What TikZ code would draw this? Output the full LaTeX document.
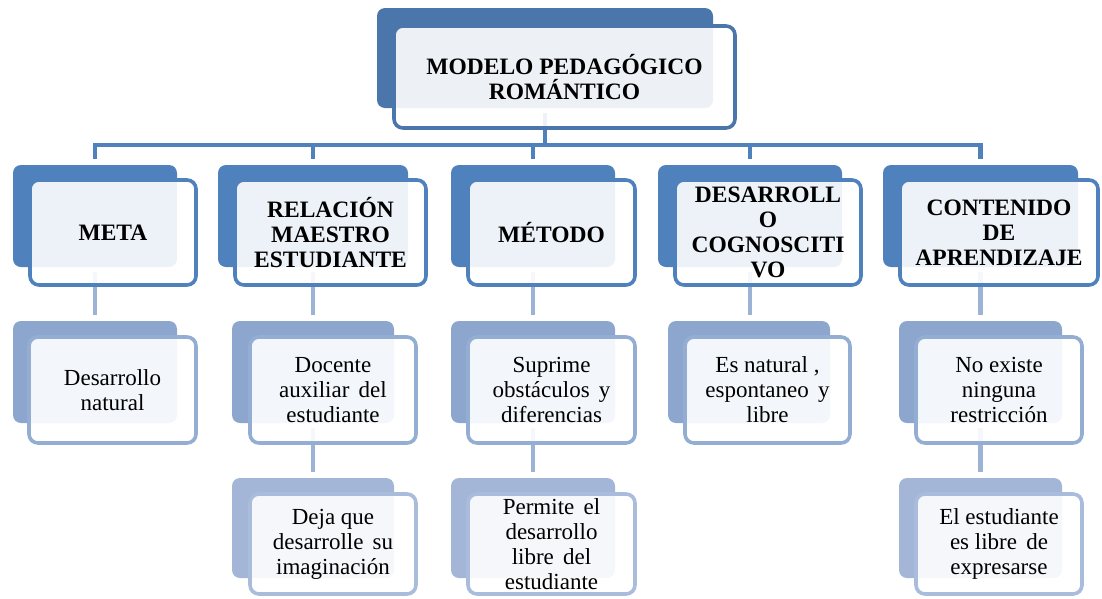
\documentclass[tikz,border=0pt]{standalone}
\usepackage{fontspec}
\setmainfont{Liberation Serif}
\definecolor{cT}{HTML}{4A76AB}
\definecolor{cA}{HTML}{4F81BD}
\definecolor{cB}{HTML}{8DA6CD}
\definecolor{cBb}{HTML}{93ADD3}
\definecolor{cC}{HTML}{A3B6D8}
\definecolor{cCb}{HTML}{A9BCDC}
\definecolor{cL}{HTML}{9CB3D6}
\tikzset{
  backbox/.style={rectangle, rounded corners=8pt, inner sep=0pt, draw=none},
  frontbox/.style={rectangle, rounded corners=9pt, inner sep=0pt, line width=3.6pt,
    fill=white, fill opacity=0.9, text opacity=1, draw opacity=1, align=center, text=black},
  boldtxt/.style={font=\fontsize{23.5}{25}\selectfont\bfseries},
  regtxt/.style={font=\fontsize{23}{25}\selectfont},
  conn/.style={line width=4.2pt, shorten <=5pt, shorten >=6pt},
  lvlone/.style={frontbox, draw=cA, boldtxt, minimum height=105},
  lvltwo/.style={frontbox, draw=cBb, regtxt, minimum height=106},
  lvlthree/.style={frontbox, draw=cCb, regtxt, minimum height=100},
  bone/.style={backbox, fill=cA, minimum height=102},
  btwo/.style={backbox, fill=cB, minimum height=102},
  bthree/.style={backbox, fill=cC, minimum height=100},
}
\begin{document}
\begin{tikzpicture}[x=1pt,y=-1pt]
\useasboundingbox (0,0) rectangle (1102,598);
% back rectangles
\node[backbox, fill=cT, minimum width=336, minimum height=100] (tback) at (545,58) {};
\node[bone, minimum width=164] (mback) at (95,216) {};
\node[bone, minimum width=190] (rback) at (313,216) {};
\node[bone, minimum width=164] (eback) at (533,216) {};
\node[bone, minimum width=184] (dback) at (750,216) {};
\node[bone, minimum width=195] (cback) at (980.5,216) {};
\node[btwo, minimum width=164] (mback2) at (95,372) {};
\node[btwo, minimum width=162] (rback2) at (313,372) {};
\node[btwo, minimum width=164] (eback2) at (533,372) {};
\node[btwo, minimum width=162] (dback2) at (749,372) {};
\node[btwo, minimum width=163] (cback2) at (980.5,372) {};
\node[bthree, minimum width=162] (rback3) at (313,528) {};
\node[bthree, minimum width=164] (eback3) at (533,528) {};
\node[bthree, minimum width=163] (cback3) at (980.5,528) {};
% connectors
\foreach \c in {mback,rback,eback,dback,cback}
  \draw[conn, draw=cA] (tback.south) -- ++(0,37) -| (\c.north);
\foreach \a/\b in {mback/mback2,rback/rback2,eback/eback2,dback/dback2,cback/cback2,rback2/rback3,eback2/eback3,cback2/cback3}
  \draw[conn, draw=cL] (\a.south) -- (\a.south |- \b.north);
% front boxes
\node[frontbox, draw=cT, boldtxt, minimum width=341, minimum height=102] (title) at (564.5,77) {MODELO PEDAGÓGICO\\ROMÁNTICO};
\node[lvlone, minimum width=166] (meta) at (113,232.5) {META};
\node[lvlone, minimum width=191] (rel) at (330.5,232.5) {RELACIÓN\\MAESTRO\\ESTUDIANTE};
\node[lvlone, minimum width=167] (met) at (551.5,232.5) {MÉTODO};
\node[lvlone, minimum width=186] (des) at (768,232.5) {DESARROLL\\O\\COGNOSCITI\\VO};
\node[lvlone, minimum width=198] (con) at (999,232.5) {CONTENIDO\\DE\\APRENDIZAJE};
\node[lvltwo, minimum width=167] (meta2) at (112.5,390) {Desarrollo\\natural};
\node[lvltwo, minimum width=166] (rel2) at (333,390) {Docente\\auxiliar\hspace{.4em}del\\estudiante};
\node[lvltwo, minimum width=167] (met2) at (551.5,390) {Suprime\\obstáculos\hspace{.4em}y\\diferencias};
\node[lvltwo, minimum width=165] (des2) at (767.5,390) {Es natural ,\\espontaneo\hspace{.4em}y\\libre};
\node[lvltwo, minimum width=166] (con2) at (999,390) {No existe\\ninguna\\restricción};
\node[lvlthree, minimum width=166] (rel3) at (333,544) {Deja que\\desarrolle\hspace{.4em}su\\imaginación};
\node[lvlthree, minimum width=167] (met3) at (551.5,544) {Permite\hspace{.4em}el\\desarrollo\\libre\hspace{.4em}del\\estudiante};
\node[lvlthree, minimum width=166] (con3) at (999,544) {El estudiante\\es libre\hspace{.4em}de\\expresarse};
\end{tikzpicture}
\end{document}
